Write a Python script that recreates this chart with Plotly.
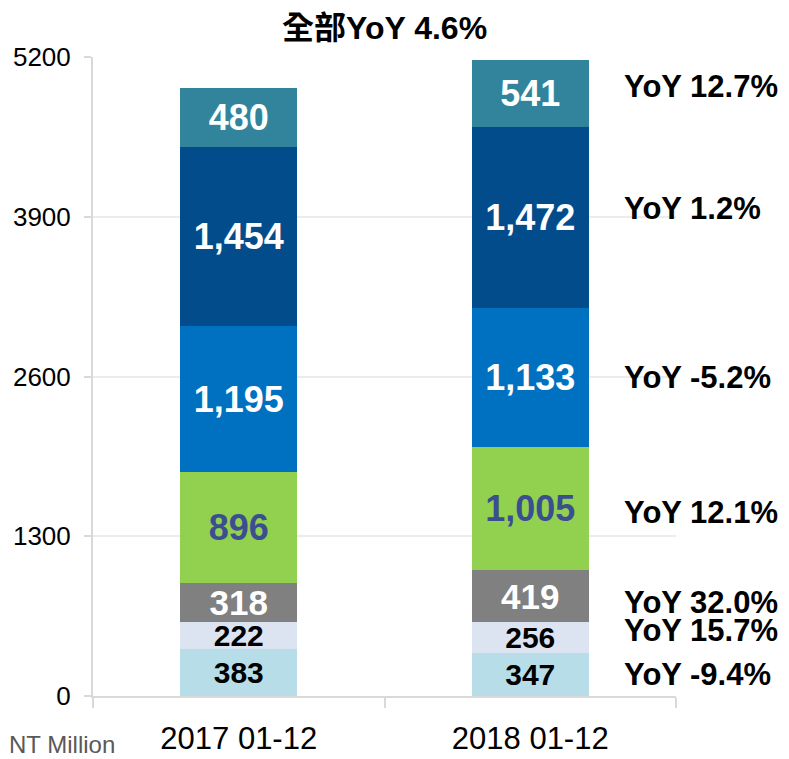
import plotly.graph_objects as go

categories = ["2017 01-12", "2018 01-12"]
series_names = ["S1", "S2", "S3", "S4", "S5", "S6", "S7"]
values_2017 = [383, 222, 318, 896, 1195, 1454, 480]
values_2018 = [347, 256, 419, 1005, 1133, 1472, 541]
yoy_labels = ["YoY -9.4%", "YoY 15.7%", "YoY 32.0%", "YoY 12.1%", "YoY -5.2%", "YoY 1.2%", "YoY 12.7%"]
y_ticks = [0, 1300, 2600, 3900, 5200]
title_text = "全部YoY 4.6%"
unit_text = "NT Million"

colors = ["#b7dee8", "#dce3f1", "#808080", "#92d050", "#0070c0", "#034c8c", "#31849b"]
text_colors = ["#000000", "#000000", "#ffffff", "#3b4e8f", "#ffffff", "#ffffff", "#ffffff"]
text_sizes = [30, 30, 35, 36, 36, 36, 36]
yoy_shifts = [0, 7, -6, -4, 0, 9, 7]

FONT = "Arial, 'Liberation Sans', sans-serif"

fig = go.Figure()
for i, name in enumerate(series_names):
    fig.add_trace(go.Bar(
        x=categories,
        y=[values_2017[i], values_2018[i]],
        name=name,
        marker=dict(color=colors[i], line=dict(width=0)),
        width=0.4,
        text=[f"{values_2017[i]:,}", f"{values_2018[i]:,}"],
        textposition="inside",
        insidetextanchor="middle",
        constraintext="none",
        textangle=0,
        textfont=dict(family=FONT, size=text_sizes[i], color=text_colors[i], weight="bold"),
        hoverinfo="skip",
    ))

cum = 0
for i, lab in enumerate(yoy_labels):
    center = cum + values_2018[i] / 2
    cum += values_2018[i]
    fig.add_annotation(
        x=0.907, xref="paper", y=center, yref="y",
        text=f"<b>{lab}</b>", showarrow=False, xanchor="left", yanchor="middle",
        yshift=yoy_shifts[i],
        font=dict(family=FONT, size=31, color="#000000"),
    )

fig.add_annotation(
    x=0.5, xref="paper", y=1.0, yref="paper", yshift=29,
    text=f"<b>{title_text}</b>", showarrow=False, xanchor="center", yanchor="middle",
    font=dict(family="Arial, 'Noto Sans CJK TC', sans-serif", size=32, color="#000000"),
)
fig.add_annotation(
    x=0, xref="paper", xshift=-86, y=0, yref="paper", yshift=-48,
    text=unit_text, showarrow=False, xanchor="left", yanchor="middle",
    font=dict(family=FONT, size=24, color="#595959"),
)

fig.update_layout(
    barmode="stack",
    width=789, height=759,
    margin=dict(l=93, r=113, t=57, b=63, autoexpand=False),
    paper_bgcolor="#ffffff", plot_bgcolor="#ffffff",
    showlegend=False,
    font=dict(family=FONT, color="#000000"),
)
fig.update_xaxes(
    automargin=False,
    showline=True, linecolor="#d9d9d9", linewidth=2,
    ticks="outside", tickson="boundaries", ticklen=10, tickcolor="#d9d9d9", tickwidth=2,
    tickfont=dict(family=FONT, size=31, color="#000000"),
    ticklabelstandoff=14,
    showgrid=False,
)
fig.update_yaxes(
    automargin=False,
    range=[0, 5200], tickvals=y_ticks, ticktext=[str(v) for v in y_ticks],
    showline=True, linecolor="#d9d9d9", linewidth=2,
    ticks="outside", ticklen=7, tickcolor="#d9d9d9", tickwidth=2,
    showgrid=True, gridcolor="#ececec", gridwidth=1.5,
    zeroline=False,
    tickfont=dict(family=FONT, size=26, color="#000000"),
    ticklabelstandoff=8,
)

fig.write_html("out.html")
